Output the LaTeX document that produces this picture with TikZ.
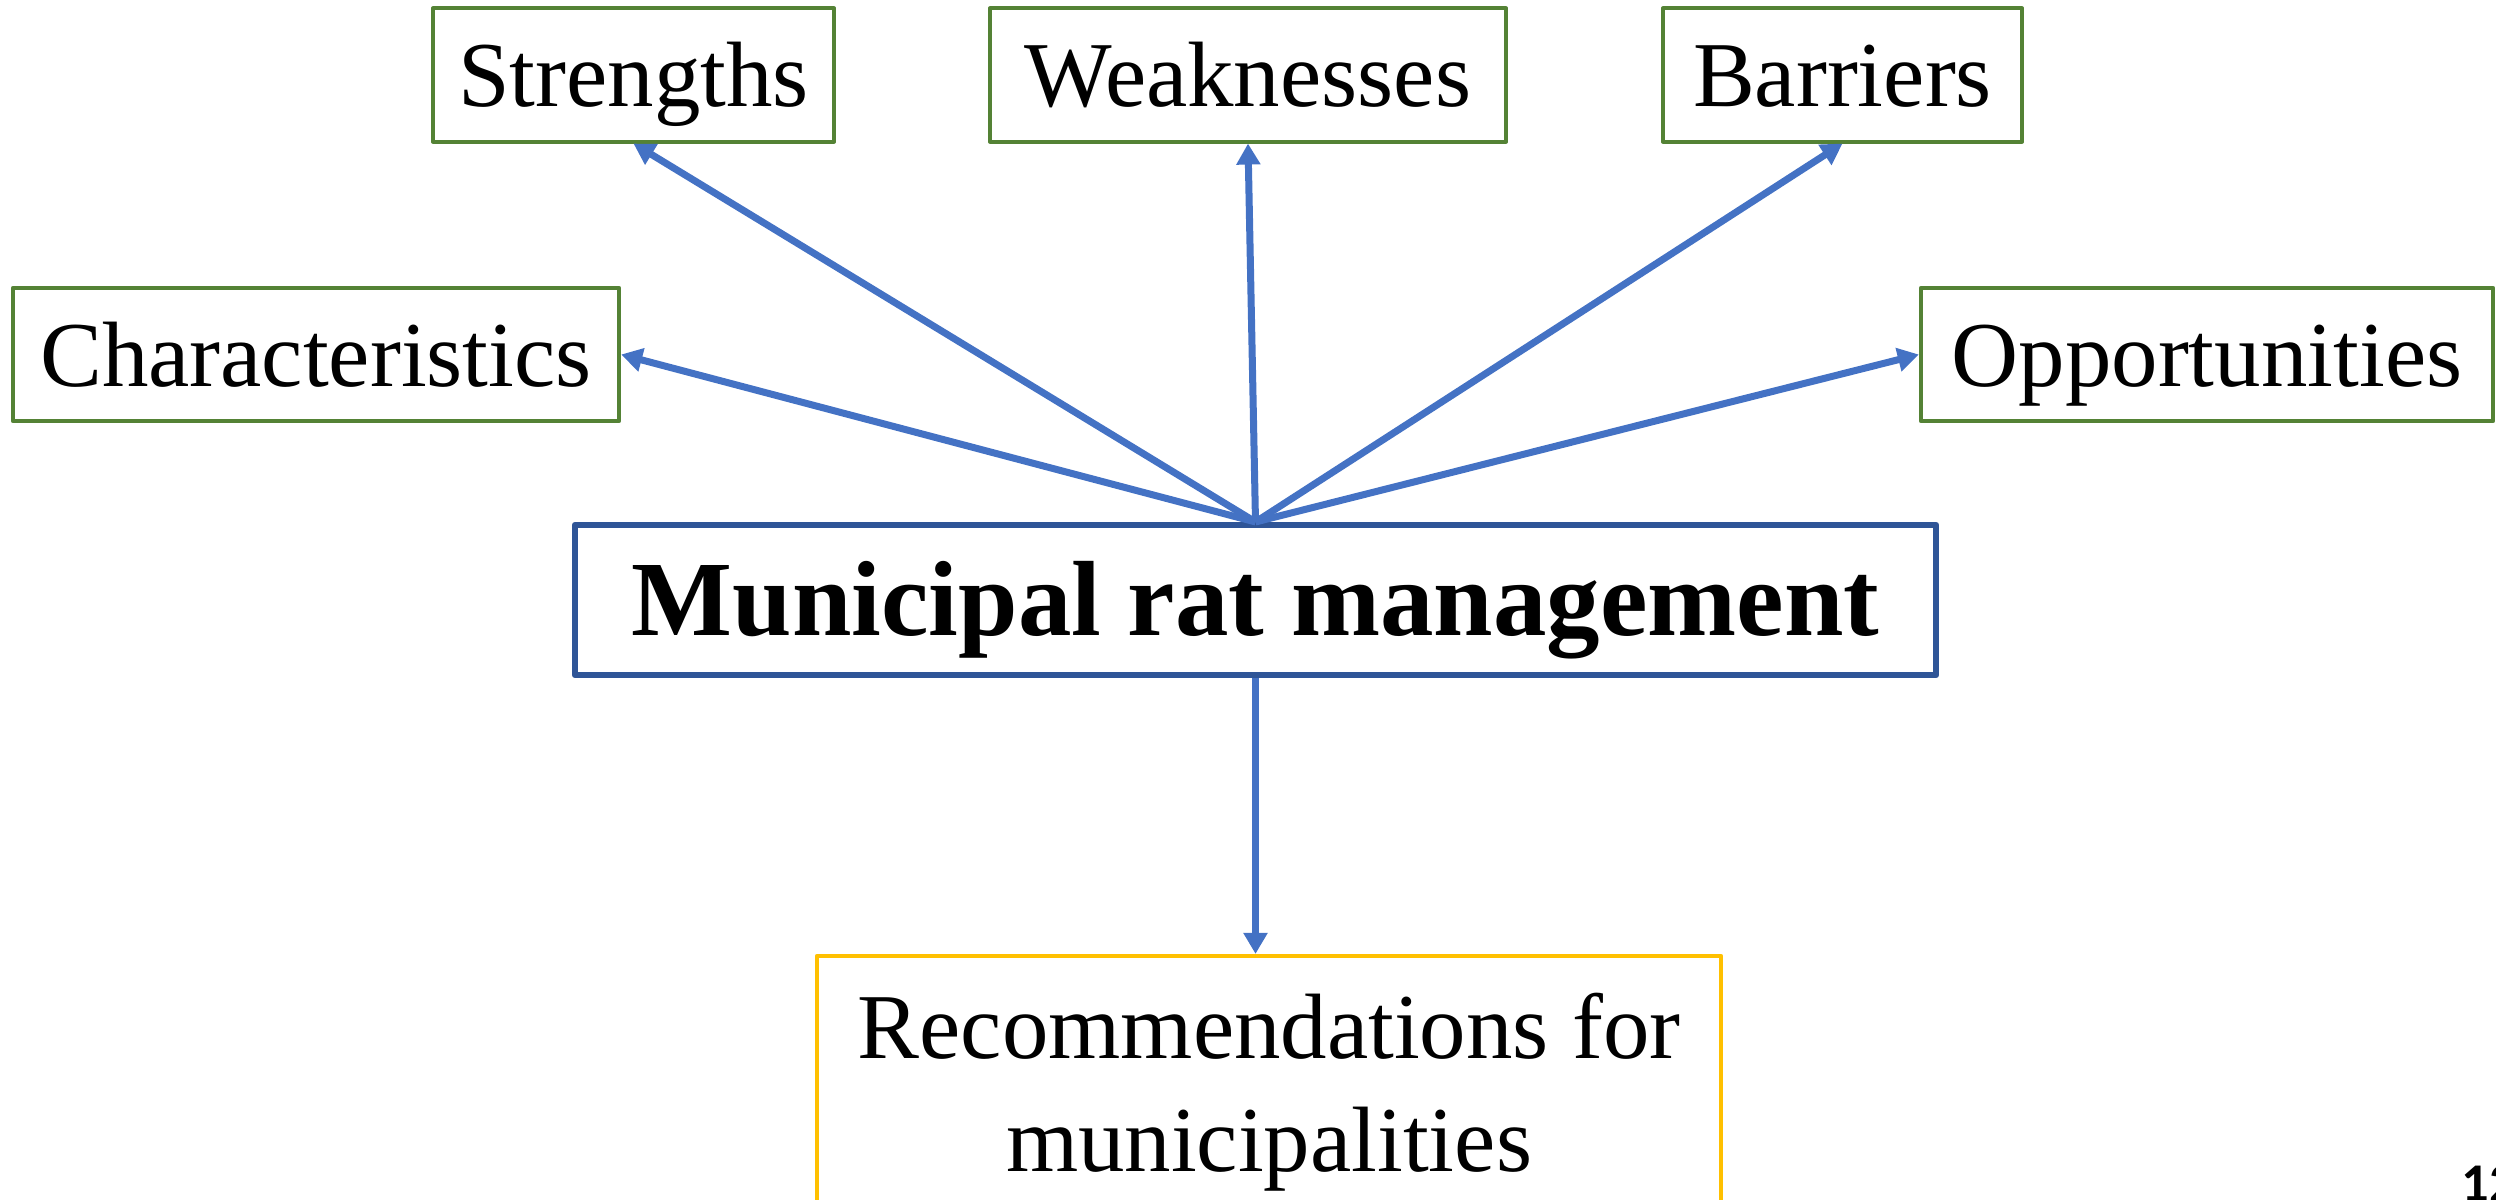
\documentclass[tikz,border=0pt]{standalone}
\usepackage{fontspec}
\setmainfont{Liberation Serif}
\newfontfamily\pagenumfont{Carlito}
\usetikzlibrary{arrows.meta}
\definecolor{boxgreen}{HTML}{548235}
\definecolor{arrowblue}{HTML}{4472C4}
\definecolor{mainblue}{HTML}{2F5597}
\definecolor{recyellow}{HTML}{FFC000}
\tikzset{
	aspect/.style={draw=boxgreen, line width=0.04cm, line join=round, inner sep=0pt,
		minimum height=1.33cm, text height=0.63cm, text depth=0pt,
		font=\fontsize{26.4}{32}\selectfont},
	link/.style={draw=arrowblue, line width=0.07cm, -{Triangle[length=0.21cm,width=0.23cm]}}
}

\begin{document}
\begin{tikzpicture}[x=0.01cm, y=-0.01cm]
					\useasboundingbox (0,0) rectangle (2496,1199);
					\node[aspect, minimum width=4.01cm] (strengths) at (633.5,75) {Strengths};
					\node[aspect, minimum width=5.16cm] (weaknesses) at (1248,75) {Weaknesses};
					\node[aspect, minimum width=3.59cm] (barriers) at (1842.5,75) {Barriers};
					\node[aspect, minimum width=6.06cm] (characteristics) at (316,354.5) {Characteristics};
					\node[aspect, minimum width=5.72cm] (opportunities) at (2207,354.5) {Opportunities};
					\node[draw=mainblue, line width=0.06cm, line join=round, inner sep=0pt,
						minimum width=13.61cm, minimum height=1.5cm, text height=0.71cm, text depth=0pt,
						font=\fontsize{30.4}{36}\selectfont\bfseries] (main) at (1255.5,600) {Municipal rat management};
					\node[draw=recyellow, line width=0.04cm, line join=round, inner sep=0pt, align=center,
						minimum width=9.04cm, minimum height=2.72cm,
						font=\fontsize{26.4}{32.1}\selectfont] (rec) at (1269,1092) {Recommendations for\\municipalities};
					\draw[link] (main.north) -- (characteristics.east);
					\draw[link] (main.north) -- (strengths.south);
					\draw[link] (main.north) -- (weaknesses.south);
					\draw[link] (main.north) -- (barriers.south);
					\draw[link] (main.north) -- (opportunities.west);
					\draw[link] (main.south) -- (main.south |- rec.north);
%slide number, cut off by the page edge
					\node[anchor=base west, inner sep=0pt, font=\pagenumfont\fontsize{15.5}{18}\selectfont\bfseries] (pagenum) at (2461,1201) {12};
				  \end{tikzpicture}
\end{document}
